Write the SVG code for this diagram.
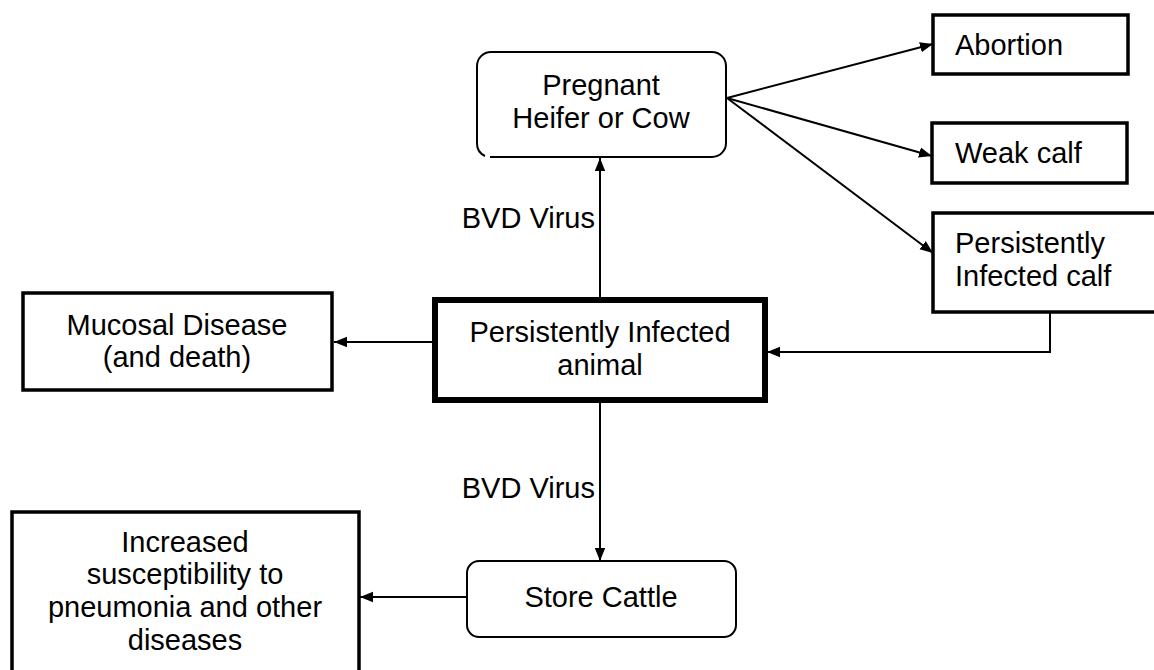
<svg xmlns="http://www.w3.org/2000/svg" width="1154" height="670" viewBox="0 0 1154 670">
<defs>
<style>
text{font-family:"Liberation Sans",Arial,sans-serif;font-size:29px;fill:#000}
.c{text-anchor:middle}
.box{fill:#fff;stroke:#000;stroke-width:3.5}
.rbox{fill:#fff;stroke:#000;stroke-width:2}
.line{fill:none;stroke:#000;stroke-width:2}
</style>
<marker id="ah2" viewBox="0 0 10 10" refX="10" refY="5" markerWidth="13" markerHeight="13" markerUnits="userSpaceOnUse" orient="auto">
<path d="M0,1 L10,5 L0,9 z" fill="#000"/>
</marker>
</defs>
<rect width="1154" height="670" fill="#fff"/>
<g id="connectors">
<line class="line" x1="727" y1="98" x2="933" y2="44" marker-end="url(#ah2)"/>
<line class="line" x1="727" y1="98" x2="932" y2="156" marker-end="url(#ah2)"/>
<line class="line" x1="727" y1="98" x2="933" y2="253" marker-end="url(#ah2)"/>
<line class="line" x1="600" y1="297" x2="600" y2="158" marker-end="url(#ah2)"/>
<line class="line" x1="600" y1="402" x2="600" y2="561" marker-end="url(#ah2)"/>
<polyline class="line" points="1050,312 1050,352 767,352" marker-end="url(#ah2)"/>
<line class="line" x1="432" y1="342" x2="334" y2="342" marker-end="url(#ah2)"/>
<line class="line" x1="467" y1="597" x2="360" y2="597" marker-end="url(#ah2)"/>
<text x="595" y="228" text-anchor="end">BVD Virus</text>
<text x="595" y="498" text-anchor="end">BVD Virus</text>
</g>
<g id="pregnant">
<path class="line" d="M490,157 L712,157 A14,14 0 0 0 726,143 L726,66 A14,14 0 0 0 712,52 L491,52 A14,14 0 0 0 477,66 L477,143 A14,14 0 0 0 485,156"/>
<text class="c" x="601" y="95">Pregnant</text>
<text class="c" x="601" y="128">Heifer or Cow</text>
</g>
<g id="abortion">
<rect class="box" x="933" y="15" width="195" height="59"/>
<text x="955" y="55">Abortion</text>
</g>
<g id="weak-calf">
<rect class="box" x="932" y="123" width="195" height="60"/>
<text x="955" y="163">Weak calf</text>
</g>
<g id="pi-calf">
<rect class="box" x="933" y="213" width="230" height="99"/>
<text x="955" y="253">Persistently</text>
<text x="955" y="286">Infected calf</text>
</g>
<g id="pi-animal">
<rect x="435" y="300" width="330" height="100" fill="#fff" stroke="#000" stroke-width="6"/>
<text class="c" x="600" y="342">Persistently Infected</text>
<text class="c" x="600" y="375">animal</text>
</g>
<g id="mucosal">
<rect class="box" x="23" y="293" width="309" height="97"/>
<text class="c" x="177" y="335">Mucosal Disease</text>
<text class="c" x="177" y="367">(and death)</text>
</g>
<g id="store-cattle">
<rect class="rbox" x="467" y="561" width="269" height="76" rx="12"/>
<text class="c" x="601" y="607">Store Cattle</text>
</g>
<g id="increased">
<rect class="box" x="12" y="512" width="347" height="170"/>
<text class="c" x="185" y="552">Increased</text>
<text class="c" x="185" y="584">susceptibility to</text>
<text class="c" x="185" y="617">pneumonia and other</text>
<text class="c" x="185" y="650">diseases</text>
</g>
</svg>
